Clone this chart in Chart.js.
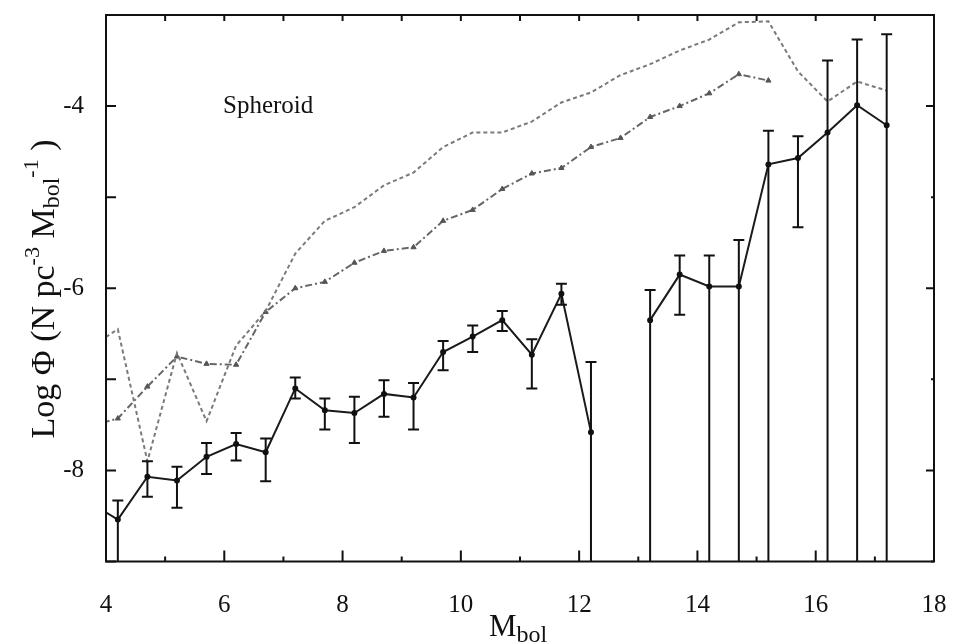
<!DOCTYPE html>
<html>
<head>
<meta charset="utf-8">
<style>
html,body{margin:0;padding:0;background:#fff;}
#wrap{width:955px;height:643px;}
</style>
<script src="https://cdn.jsdelivr.net/npm/chart.js@4.4.1/dist/chart.umd.min.js"></script>
</head>
<body>
<div id="wrap"><canvas id="c" width="955" height="643"></canvas></div>
<script>
// ---- data ----
const mbol = [3.7,4.2,4.7,5.2,5.7,6.2,6.7,7.2,7.7,8.2,8.7,9.2,9.7,10.2,10.7,11.2,11.7,12.2,12.7,13.2,13.7,14.2,14.7,15.2,15.7,16.2,16.7,17.2];
const observed = [-8.34,-8.54,-8.07,-8.11,-7.85,-7.71,-7.80,-7.10,-7.34,-7.37,-7.16,-7.20,-6.70,-6.53,-6.35,-6.73,-6.06,-7.58,null,-6.35,-5.85,-5.98,-5.98,-4.64,-4.57,-4.29,-3.99,-4.21];
const errHigh = [null,-8.33,-7.90,-7.96,-7.70,-7.59,-7.65,-6.98,-7.21,-7.19,-7.01,-7.04,-6.58,-6.41,-6.25,-6.56,-5.95,-6.81,null,-6.02,-5.64,-5.64,-5.47,-4.27,-4.33,-3.50,-3.27,-3.21];
const errLow = [null,-9.6,-8.29,-8.41,-8.04,-7.89,-8.12,-7.21,-7.55,-7.70,-7.41,-7.55,-6.90,-6.70,-6.47,-7.10,-6.18,-10,null,-10,-6.29,-10,-10,-10,-5.33,-10,-10,-10];
const modelA = [-6.66,-6.45,-7.90,-6.71,-7.46,-6.63,-6.25,-5.62,-5.26,-5.11,-4.87,-4.73,-4.45,-4.29,-4.29,-4.17,-3.96,-3.85,-3.66,-3.54,-3.39,-3.27,-3.08,-3.07,-3.62,-3.95,-3.73,-3.83];
const modelB = [-7.52,-7.43,-7.08,-6.75,-6.83,-6.84,-6.26,-6.00,-5.93,-5.72,-5.59,-5.55,-5.26,-5.14,-4.91,-4.74,-4.68,-4.45,-4.35,-4.12,-4.00,-3.86,-3.65,-3.72,null,null,null,null];
const xTickLabels = [4,6,8,10,12,14,16,18];
const yTickLabels = [-4,-6,-8];
const annotationText = "Spheroid";

const SERIF = '"Liberation Serif", "DejaVu Serif", serif';
const toPts = ys => mbol.map((x,i)=>({x:x, y:ys[i]}));

const errorBars = {
  id:'errorBars',
  afterDatasetsDraw(chart){
    const {ctx, chartArea:a, scales:{x,y}} = chart;
    ctx.save();
    ctx.beginPath(); ctx.rect(a.left, a.top, a.right-a.left, a.bottom-a.top); ctx.clip();
    ctx.strokeStyle = '#111'; ctx.lineWidth = 2;
    mbol.forEach((m,i)=>{
      if(errHigh[i]==null || errLow[i]==null) return;
      const px = x.getPixelForValue(m);
      const yh = y.getPixelForValue(errHigh[i]);
      const yl = y.getPixelForValue(errLow[i]);
      ctx.beginPath(); ctx.moveTo(px, yh); ctx.lineTo(px, yl); ctx.stroke();
      ctx.beginPath();
      ctx.moveTo(px-5.5, yh); ctx.lineTo(px+5.5, yh);
      ctx.moveTo(px-5.5, yl); ctx.lineTo(px+5.5, yl);
      ctx.stroke();
    });
    ctx.restore();
  }
};

function drawRich(ctx, parts, cx, cy){
  let total = 0;
  parts.forEach(p=>{ ctx.font = p[1]+'px '+SERIF; total += ctx.measureText(p[0]).width; });
  let xx = cx - total/2;
  parts.forEach(p=>{
    ctx.font = p[1]+'px '+SERIF;
    ctx.fillText(p[0], xx, cy + p[2]);
    xx += ctx.measureText(p[0]).width;
  });
}

const frame = {
  id:'frame',
  afterDraw(chart){
    const {ctx, chartArea:a, scales:{x,y}} = chart;
    ctx.save();
    ctx.strokeStyle = '#111'; ctx.lineWidth = 2;
    x.ticks.forEach(t=>{
      const px = x.getPixelForValue(t.value);
      const major = Math.round(t.value) % 2 === 0;
      ctx.beginPath();
      ctx.moveTo(px, a.bottom); ctx.lineTo(px, a.bottom - (major ? 11 : 5));
      ctx.moveTo(px, a.top); ctx.lineTo(px, a.top + 6);
      ctx.stroke();
    });
    y.ticks.forEach(t=>{
      const py = y.getPixelForValue(t.value);
      const major = Math.round(t.value) % 2 === 0;
      ctx.beginPath();
      ctx.moveTo(a.left, py); ctx.lineTo(a.left + 10, py);
      ctx.moveTo(a.right, py); ctx.lineTo(a.right - (major ? 8 : 3), py);
      ctx.stroke();
    });
    ctx.strokeRect(a.left, a.top, a.right-a.left, a.bottom-a.top);
    ctx.fillStyle = '#111';
    ctx.textBaseline = 'alphabetic'; ctx.textAlign = 'left';
    ctx.font = '25px '+SERIF;
    ctx.fillText(annotationText, 223, 113);
    // x title
    drawRich(ctx, [['M',31,0],['bol',24,6]], 518, 636);
    // y title (rotated)
    ctx.save();
    ctx.translate(54, 289);
    ctx.rotate(-Math.PI/2);
    drawRich(ctx, [['Log \u03A6 (N pc',34,0],['-3',22,-15],[' M',34,0],['bol',24,5],['-1',22,-16],[' )',34,0]], 0, 0);
    ctx.restore();
    ctx.restore();
  }
};

new Chart(document.getElementById('c'), {
  type:'line',
  data:{
    datasets:[
      {label:'model A', data:toPts(modelA), borderColor:'#7a7a7a', borderWidth:2, borderDash:[4,3],
       pointRadius:0, fill:false, tension:0, clip:0},
      {label:'model B', data:toPts(modelB), borderColor:'#666', borderWidth:2, borderDash:[7,3,2,3],
       pointRadius:3, pointStyle:'triangle', pointBackgroundColor:'#555', pointBorderColor:'#555', pointBorderWidth:1,
       fill:false, tension:0, clip:0, spanGaps:false},
      {label:'Spheroid', data:toPts(observed), borderColor:'#1a1a1a', borderWidth:2,
       pointRadius:2, pointStyle:'circle', pointBackgroundColor:'#111', pointBorderColor:'#111',
       fill:false, tension:0, clip:0, spanGaps:false}
    ]
  },
  options:{
    responsive:false, animation:false,
    layout:{padding:{left:0, top:15, right:21, bottom:0}},
    plugins:{legend:{display:false}, tooltip:{enabled:false}},
    scales:{
      x:{type:'linear', min:4, max:18,
         grid:{display:false, drawTicks:false}, border:{display:false},
         ticks:{stepSize:1, autoSkip:false, maxRotation:0, padding:29, color:'#111',
                font:{family:SERIF, size:25},
                callback:v=> xTickLabels.includes(v) ? String(v) : ''},
         afterFit(s){ s.height = 81.5; s.paddingLeft = 0; s.paddingRight = 0; }},
      y:{type:'linear', min:-9, max:-3,
         grid:{display:false, drawTicks:false}, border:{display:false},
         ticks:{stepSize:1, autoSkip:false, padding:22, color:'#111',
                font:{family:SERIF, size:25},
                callback:v=> yTickLabels.includes(v) ? String(v) : ''},
         afterFit(s){ s.width = 106; s.paddingTop = 0; s.paddingBottom = 0; }}
    }
  },
  plugins:[errorBars, frame]
});
</script>
</body>
</html>
